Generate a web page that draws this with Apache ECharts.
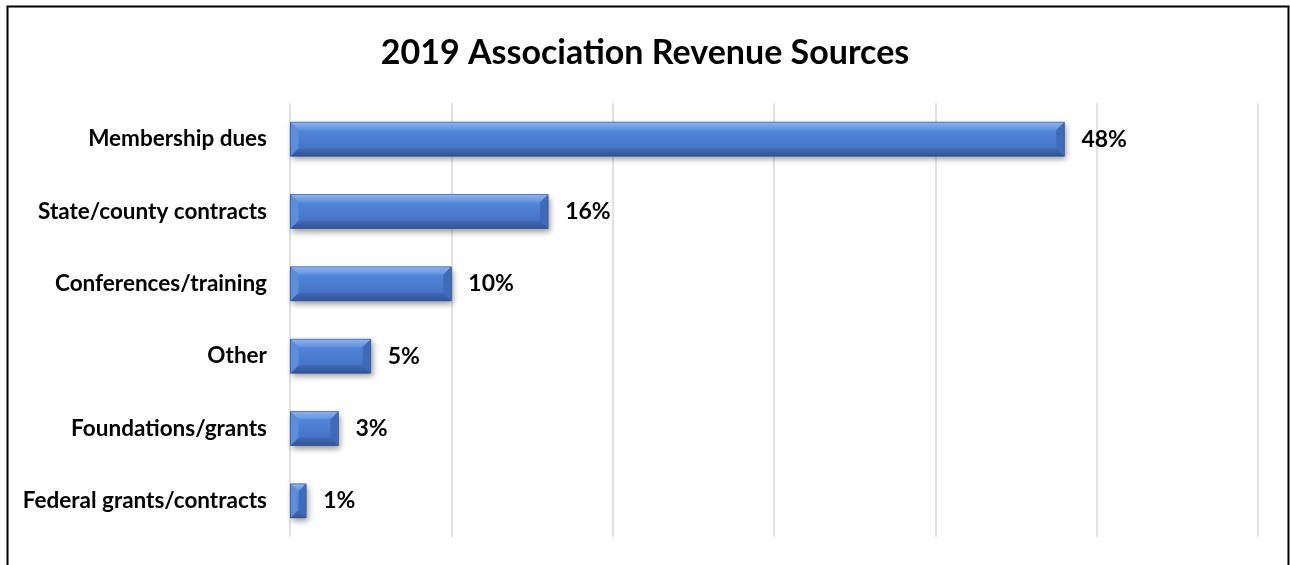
<!DOCTYPE html>
<html>
<head>
<meta charset="utf-8">
<script src="https://cdn.jsdelivr.net/npm/echarts@6/dist/echarts.min.js"></script>
<style>
  html, body { margin: 0; padding: 0; background: #fff; }
  #chart { width: 1290px; height: 565px; }
</style>
</head>
<body>
<div id="chart"></div>
<script>
// Revenue sources, top to bottom
const categories = [
  'Membership dues',
  'State/county contracts',
  'Conferences/training',
  'Other',
  'Foundations/grants',
  'Federal grants/contracts'
];
// Share of revenue in percent
const shares = [48, 16, 10, 5, 3, 1];
// Value axis ticks (percent)
const axisMin = 0, axisMax = 60, axisStep = 10;

const FONT = 'Lato, "Open Sans", sans-serif';
const BAR_H = 34;
const BEVEL = 8;

const chart = echarts.init(document.getElementById('chart'), null, { renderer: 'canvas' });

// Bevelled faces laid over each bar: lit top/left, shaded bottom/right
function renderBevel(params, api) {
  const val = api.value(0);
  const idx = api.value(1);
  const p0 = api.coord([0, idx]);
  const p1 = api.coord([val, idx]);
  const x0 = p0[0] + 0.5, x1 = p1[0];
  const y0 = p0[1] - BAR_H / 2, y1 = p0[1] + BAR_H / 2;
  const b = Math.min(BEVEL, (x1 - x0) / 2.2);
  const poly = (pts, fill) => ({ type: 'polygon', shape: { points: pts }, style: { fill: fill }, silent: true });
  return {
    type: 'group',
    children: [
      {
        type: 'rect',
        shape: { x: x0 + b, y: y0 + b, width: Math.max(0, x1 - x0 - 2 * b), height: y1 - y0 - 2 * b },
        style: {
          fill: new echarts.graphic.LinearGradient(0, 0, 0, 1, [
            { offset: 0, color: '#5186d8' },
            { offset: 1, color: '#4674c6' }
          ])
        },
        silent: true
      },
      poly([[x0, y0], [x1, y0], [x1 - b, y0 + b], [x0 + b, y0 + b]],
        new echarts.graphic.LinearGradient(0, 0, 0, 1, [
          { offset: 0, color: '#8db4ee' },
          { offset: 1, color: '#5f91de' }
        ])),
      poly([[x0, y1], [x1, y1], [x1 - b, y1 - b], [x0 + b, y1 - b]],
        new echarts.graphic.LinearGradient(0, 0, 0, 1, [
          { offset: 0, color: '#4169b8' },
          { offset: 1, color: '#2f5597' }
        ])),
      poly([[x0, y0], [x0 + b, y0 + b], [x0 + b, y1 - b], [x0, y1]], '#5d8edb'),
      poly([[x1, y0], [x1, y1], [x1 - b, y1 - b], [x1 - b, y0 + b]], '#3f6bbb'),
      {
        type: 'rect',
        shape: { x: x0, y: y0, width: x1 - x0, height: y1 - y0 },
        style: { fill: 'none', stroke: 'rgba(40,75,140,0.55)', lineWidth: 1 },
        silent: true
      }
    ]
  };
}

chart.setOption({
  backgroundColor: '#ffffff',
  animation: false,
  title: {
    text: '2019 Association Revenue Sources',
    left: 'center',
    top: 31,
    textStyle: { fontFamily: FONT, fontWeight: 'bold', fontSize: 34, color: '#000' }
  },
  graphic: [{
    type: 'rect',
    left: 5, top: 4,
    shape: { width: 1281, height: 620 },
    style: { fill: 'none', stroke: '#000', lineWidth: 2 },
    silent: true
  }],
  grid: { left: 290, right: 32, top: 103, bottom: 28, containLabel: false },
  xAxis: {
    type: 'value',
    min: axisMin, max: axisMax, interval: axisStep,
    axisLabel: { show: false },
    axisLine: { show: false },
    axisTick: { show: false },
    splitLine: { show: true, lineStyle: { color: '#d9d9d9', width: 1.5 } }
  },
  yAxis: {
    type: 'category',
    data: categories,
    inverse: true,
    axisLine: { show: false },
    axisTick: { show: false },
    axisLabel: { margin: 23, fontFamily: FONT, fontWeight: 'bold', fontSize: 22.5, color: '#000' }
  },
  series: [
    {
      type: 'bar',
      data: shares,
      barWidth: BAR_H,
      z: 2,
      itemStyle: {
        color: '#4a7bd0',
        shadowColor: 'rgba(0,0,0,0.4)',
        shadowBlur: 6,
        shadowOffsetX: 2,
        shadowOffsetY: 3
      },
      label: {
        show: true,
        position: 'right',
        distance: 17,
        formatter: '{c}%',
        fontFamily: FONT,
        fontWeight: 'bold',
        fontSize: 23,
        color: '#000'
      }
    },
    {
      type: 'custom',
      z: 3,
      renderItem: renderBevel,
      encode: { x: 0, y: 1 },
      data: shares.map((v, i) => [v, i])
    }
  ]
});
</script>
</body>
</html>
